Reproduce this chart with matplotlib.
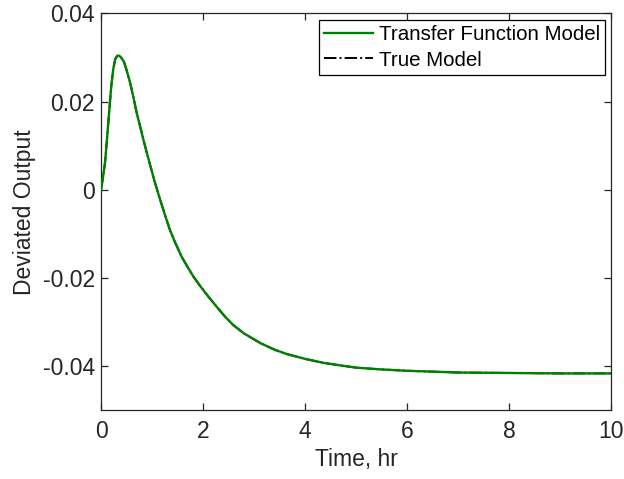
import matplotlib.pyplot as plt
from matplotlib.ticker import FuncFormatter

plt.rcParams['font.family'] = ['Liberation Sans', 'DejaVu Sans']
plt.rcParams['font.size'] = 16.5
plt.rcParams['axes.unicode_minus'] = False

# values (time in hr, deviated output)
time_hr = [0, 0.04, 0.08, 0.12, 0.16, 0.2, 0.24, 0.28, 0.32, 0.36, 0.4,
           0.45, 0.5, 0.57, 0.64, 0.7, 0.77, 0.83, 0.9, 0.96, 1.05, 1.16,
           1.25, 1.35, 1.45, 1.58, 1.7, 1.81, 1.94, 2.1, 2.27, 2.43, 2.59,
           2.8, 3.12, 3.4, 3.64, 4.0, 4.36, 4.7, 5.01, 5.5, 6.0, 6.5, 7.0,
           8.0, 9.0, 10.0]
tf_model = [0, 0.0029, 0.0063, 0.0119, 0.0177, 0.0234, 0.0274, 0.0297,
            0.0304, 0.0304, 0.0299, 0.0290, 0.0272, 0.0243, 0.0207, 0.0174,
            0.0142, 0.0114, 0.0083, 0.0057, 0.0019, -0.0023, -0.0056,
            -0.0091, -0.0119, -0.0152, -0.0176, -0.0197, -0.0218, -0.0242,
            -0.0266, -0.0288, -0.0307, -0.0326, -0.0348, -0.0363, -0.0373,
            -0.0384, -0.0393, -0.0399, -0.0404, -0.0408, -0.0411, -0.0413,
            -0.0415, -0.0416, -0.0417, -0.0417]
true_model = list(tf_model)

x_ticks = [0, 2, 4, 6, 8, 10]
y_ticks = [-0.04, -0.02, 0, 0.02, 0.04]

fig = plt.figure(figsize=(6.24, 4.79), dpi=100)
ax = fig.add_axes([0.1619, 0.1441, 0.8173, 0.8278])

ax.plot(time_hr, tf_model, color='#008000', lw=1.7, label='Transfer Function Model', zorder=3)
ax.plot(time_hr, true_model, color='black', lw=1.4, ls='-.', label='True Model', zorder=2)

ax.set_xlim(0, 10)
ax.set_ylim(-0.05, 0.04)
ax.set_xticks(x_ticks)
ax.set_yticks(y_ticks)
ax.yaxis.set_major_formatter(FuncFormatter(lambda v, p: '%g' % round(v, 4)))
ax.tick_params(direction='in', top=True, right=True, length=5, width=0.9,
               color='#262626', labelcolor='#262626', labelsize=16.5)
ax.tick_params(axis='x', pad=7.5)
ax.tick_params(axis='y', pad=4.5)
for s in ax.spines.values():
    s.set_color('#262626')
    s.set_linewidth(0.9)

ax.set_xlabel('Time, hr', fontsize=16.5, color='#262626', labelpad=3)
ax.set_ylabel('Deviated Output', fontsize=16.5, color='#262626', labelpad=5)

leg = ax.legend(loc='upper right', fontsize=14.8, fancybox=False, framealpha=1,
                edgecolor='black', borderpad=0.25, handlelength=2.4,
                handletextpad=0.25, labelspacing=0.33, borderaxespad=0.3)
leg.get_frame().set_linewidth(0.9)

fig.savefig('out.png', dpi=100)
